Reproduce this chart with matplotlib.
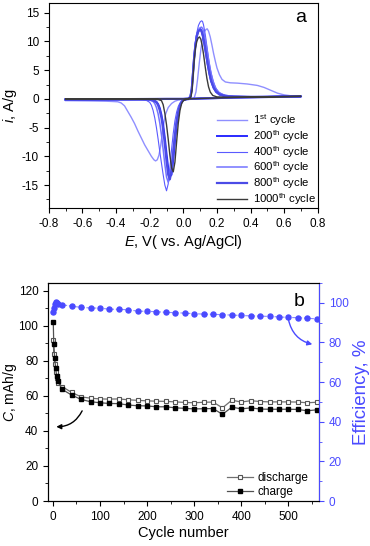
import matplotlib
matplotlib.use("Agg")
import matplotlib.pyplot as plt
from matplotlib.ticker import MultipleLocator, FormatStrFormatter

plt.rcParams['font.family'] = ['Liberation Sans', 'DejaVu Sans']
plt.rcParams['mathtext.fontset'] = 'custom'
plt.rcParams['mathtext.rm'] = 'Liberation Sans'
plt.rcParams['mathtext.it'] = 'Liberation Sans:italic'
plt.rcParams['axes.unicode_minus'] = False

# ---------------- Panel a: CV curves ----------------
cv_labels = [r"1$^{\rm st}$ cycle", r"200$^{\rm th}$ cycle", r"400$^{\rm th}$ cycle",
             r"600$^{\rm th}$ cycle", r"800$^{\rm th}$ cycle", r"1000$^{\rm th}$ cycle"]

# 1st cycle
E1_an = [-0.70, -0.50, -0.30, -0.10, 0.00, 0.050, 0.065, 0.075, 0.085, 0.095, 0.105, 0.115, 0.125, 0.135,
         0.142, 0.150, 0.160, 0.170, 0.180, 0.190, 0.200, 0.215, 0.230, 0.250, 0.280, 0.320, 0.380, 0.440,
         0.480, 0.520, 0.560, 0.600, 0.650, 0.700]
i1_an = [-0.2, -0.05, 0.0, 0.0, 0.0, 0.05, 0.2, 1.2, 3.5, 6.3, 8.8, 10.6, 11.7, 12.1, 12.2, 11.8, 10.8, 9.4,
         7.9, 6.6, 5.4, 4.2, 3.4, 2.95, 2.8, 2.75, 2.6, 2.35, 2.0, 1.5, 1.0, 0.7, 0.5, 0.35]
E1_ca = [0.70, 0.60, 0.50, 0.40, 0.30, 0.20, 0.10, 0.05, 0.00, -0.03, -0.05, -0.07, -0.09, -0.105, -0.115,
         -0.125, -0.135, -0.145, -0.155, -0.165, -0.175, -0.19, -0.21, -0.23, -0.25, -0.27, -0.29, -0.31,
         -0.33, -0.35, -0.37, -0.39, -0.42, -0.46, -0.55, -0.70]
i1_ca = [0.35, 0.3, 0.25, 0.2, 0.15, 0.1, 0.05, 0.0, -0.1, -0.2, -0.4, -0.8, -1.5, -2.6, -4.0, -6.0, -8.2,
         -9.8, -10.6, -10.8, -10.6, -10.0, -9.0, -8.0, -6.8, -5.6, -4.3, -3.2, -2.2, -1.2, -0.7, -0.5,
         -0.45, -0.4, -0.35, -0.3]

# 200th cycle
E200_an = [-0.70, -0.40, -0.10, 0.00, 0.030, 0.042, 0.050, 0.057, 0.064, 0.072, 0.080, 0.090, 0.100, 0.108,
           0.116, 0.125, 0.135, 0.145, 0.155, 0.165, 0.180, 0.195, 0.215, 0.250, 0.300, 0.400, 0.500, 0.600, 0.700]
i200_an = [-0.1, -0.05, 0.0, 0.0, 0.05, 0.4, 1.8, 4.5, 7.3, 9.6, 11.1, 12.0, 12.2, 11.9, 11.0, 9.6, 7.8, 6.0,
           4.4, 3.1, 1.9, 1.2, 0.75, 0.5, 0.4, 0.35, 0.35, 0.4, 0.45]
E200_ca = [0.70, 0.50, 0.30, 0.20, 0.10, 0.05, 0.02, 0.00, -0.01, -0.02, -0.03, -0.04, -0.05, -0.06, -0.07,
           -0.08, -0.09, -0.10, -0.11, -0.12, -0.13, -0.14, -0.15, -0.16, -0.18, -0.20, -0.23, -0.30, -0.50, -0.70]
i200_ca = [0.45, 0.35, 0.25, 0.15, 0.08, 0.02, -0.05, -0.2, -0.6, -1.3, -2.6, -4.6, -7.4, -10.6, -13.2, -13.5,
           -12.0, -9.5, -6.8, -4.5, -2.8, -1.6, -0.9, -0.5, -0.2, -0.1, -0.08, -0.08, -0.08, -0.1]

# 400th cycle
E400_an = [-0.70, -0.40, -0.10, 0.00, 0.030, 0.040, 0.048, 0.055, 0.062, 0.070, 0.080, 0.090, 0.100, 0.108,
           0.114, 0.120, 0.130, 0.140, 0.150, 0.160, 0.175, 0.190, 0.210, 0.240, 0.300, 0.400, 0.500, 0.600, 0.700]
i400_an = [-0.1, -0.05, 0.0, 0.0, 0.05, 0.3, 1.5, 4.0, 7.0, 9.5, 11.5, 12.8, 13.4, 13.6, 13.5, 12.9, 11.3, 9.2,
           7.0, 5.2, 3.3, 2.0, 1.2, 0.7, 0.45, 0.35, 0.35, 0.4, 0.45]
E400_ca = [0.70, 0.50, 0.30, 0.20, 0.10, 0.05, 0.02, 0.00, -0.01, -0.02, -0.03, -0.04, -0.05, -0.06, -0.07,
           -0.08, -0.09, -0.10, -0.11, -0.12, -0.13, -0.14, -0.15, -0.16, -0.17, -0.18, -0.19, -0.20, -0.22,
           -0.25, -0.30, -0.50, -0.70]
i400_ca = [0.45, 0.35, 0.25, 0.15, 0.08, 0.02, -0.05, -0.15, -0.35, -0.7, -1.3, -2.3, -3.8, -6.0, -8.8, -12.0,
           -14.8, -16.0, -15.0, -13.2, -11.2, -9.2, -7.0, -5.0, -3.3, -2.0, -1.1, -0.6, -0.25, -0.12, -0.1,
           -0.08, -0.1]

# 600th cycle
E600_an = [-0.70, -0.40, -0.10, 0.00, 0.030, 0.042, 0.050, 0.057, 0.064, 0.072, 0.082, 0.092, 0.100, 0.108,
           0.116, 0.125, 0.135, 0.145, 0.155, 0.165, 0.180, 0.195, 0.215, 0.250, 0.300, 0.400, 0.500, 0.600, 0.700]
i600_an = [-0.1, -0.05, 0.0, 0.0, 0.05, 0.3, 1.5, 4.0, 6.8, 9.2, 11.0, 12.1, 12.4, 12.5, 12.2, 11.2, 9.6, 7.8,
           6.0, 4.4, 2.8, 1.7, 1.0, 0.6, 0.45, 0.35, 0.35, 0.4, 0.45]
E600_ca = [0.70, 0.50, 0.30, 0.20, 0.10, 0.05, 0.02, 0.00, -0.01, -0.02, -0.03, -0.04, -0.05, -0.06, -0.07,
           -0.08, -0.09, -0.10, -0.11, -0.12, -0.13, -0.14, -0.15, -0.16, -0.17, -0.18, -0.20, -0.23, -0.30,
           -0.50, -0.70]
i600_ca = [0.45, 0.35, 0.25, 0.15, 0.08, 0.02, -0.05, -0.2, -0.5, -1.0, -2.0, -3.6, -5.8, -8.6, -11.6, -13.8,
           -14.5, -13.6, -11.4, -8.8, -6.3, -4.2, -2.6, -1.5, -0.8, -0.45, -0.2, -0.12, -0.1, -0.08, -0.1]

# 800th cycle
E800_an = [-0.70, -0.40, -0.10, 0.00, 0.030, 0.042, 0.050, 0.057, 0.064, 0.072, 0.080, 0.090, 0.100, 0.108,
           0.116, 0.125, 0.135, 0.145, 0.155, 0.165, 0.180, 0.195, 0.215, 0.250, 0.300, 0.400, 0.500, 0.600, 0.700]
i800_an = [-0.1, -0.05, 0.0, 0.0, 0.05, 0.35, 1.6, 4.2, 7.0, 9.3, 10.9, 11.8, 12.0, 11.8, 11.0, 9.7, 7.9, 6.1,
           4.5, 3.2, 2.0, 1.3, 0.8, 0.5, 0.4, 0.35, 0.35, 0.4, 0.45]
E800_ca = [0.70, 0.50, 0.30, 0.20, 0.10, 0.05, 0.02, 0.00, -0.01, -0.02, -0.03, -0.04, -0.05, -0.06, -0.07,
           -0.08, -0.09, -0.10, -0.11, -0.12, -0.13, -0.14, -0.15, -0.16, -0.18, -0.20, -0.23, -0.30, -0.50, -0.70]
i800_ca = [0.45, 0.35, 0.25, 0.15, 0.08, 0.02, -0.05, -0.2, -0.5, -1.1, -2.2, -3.9, -6.4, -9.4, -12.4, -14.0,
           -13.2, -10.8, -7.9, -5.3, -3.3, -2.0, -1.1, -0.6, -0.25, -0.12, -0.08, -0.08, -0.08, -0.1]

# 1000th cycle
E1000_an = [-0.70, -0.40, -0.10, 0.00, 0.030, 0.045, 0.052, 0.058, 0.065, 0.072, 0.080, 0.088, 0.096, 0.104,
            0.112, 0.120, 0.130, 0.140, 0.150, 0.160, 0.175, 0.200, 0.250, 0.300, 0.400, 0.500, 0.600, 0.700]
i1000_an = [-0.05, 0.0, 0.0, 0.0, 0.05, 0.3, 1.5, 4.0, 6.8, 8.8, 10.0, 10.6, 10.8, 10.4, 9.3, 7.8, 5.6, 3.6,
            2.1, 1.2, 0.6, 0.35, 0.3, 0.3, 0.3, 0.35, 0.4, 0.45]
E1000_ca = [0.70, 0.50, 0.30, 0.20, 0.10, 0.05, 0.02, 0.00, -0.01, -0.02, -0.03, -0.04, -0.05, -0.06, -0.07,
            -0.08, -0.09, -0.10, -0.11, -0.12, -0.13, -0.15, -0.20, -0.30, -0.50, -0.70]
i1000_ca = [0.45, 0.35, 0.25, 0.15, 0.08, 0.02, -0.05, -0.3, -0.8, -2.0, -4.2, -7.5, -11.0, -12.7, -12.0, -9.8,
            -7.0, -4.5, -2.5, -1.0, -0.3, -0.1, -0.05, -0.03, -0.03, -0.05]

cv_E = [E1_an + E1_ca, E200_an + E200_ca, E400_an + E400_ca, E600_an + E600_ca, E800_an + E800_ca,
        E1000_an + E1000_ca]
cv_i = [i1_an + i1_ca, i200_an + i200_ca, i400_an + i400_ca, i600_an + i600_ca, i800_an + i800_ca,
        i1000_an + i1000_ca]
cv_colors = ['#8f8fff', '#2a2aff', '#5a5aff', '#7373ff', '#4b4be6', '#3a3a3a']
cv_widths = [1.0, 1.4, 0.8, 1.1, 1.6, 1.0]

# ---------------- Panel b: cycling ----------------
cycles = [1, 2, 4, 6, 8, 10, 20, 40, 60, 80, 100, 120, 140, 160, 180, 200, 220, 240, 260, 280, 300,
          320, 340, 360, 380, 400, 420, 440, 460, 480, 500, 520, 540, 560]
charge = [102.0, 89.5, 81.5, 76.0, 71.5, 68.5, 63.7, 60.5, 58.0, 56.7, 56.1, 55.7, 55.6, 54.8, 54.4, 54.3,
          53.8, 53.8, 53.2, 52.9, 52.6, 52.7, 52.8, 49.5, 53.6, 52.6, 53.2, 52.5, 52.4, 52.4, 52.4, 52.3,
          51.5, 52.1]
discharge = [92.0, 84.0, 78.5, 73.8, 70.0, 67.5, 65.3, 62.0, 59.5, 58.7, 58.3, 58.2, 58.3, 57.8, 57.5, 57.2,
             57.0, 56.9, 56.6, 56.3, 56.1, 56.4, 56.5, 53.2, 57.6, 56.5, 57.3, 56.8, 56.6, 56.6, 56.6, 56.5,
             56.1, 56.4]
efficiency = [95.6, 97.5, 99.5, 100.2, 100.0, 99.4, 99.0, 98.3, 97.7, 97.4, 97.3, 96.8, 96.7, 96.5, 95.8,
              95.7, 95.5, 95.2, 95.0, 94.8, 94.5, 94.3, 94.2, 94.0, 93.8, 93.6, 93.4, 93.3, 93.1, 92.9,
              92.6, 92.5, 92.2, 91.9]

blue = '#4a4aff'

fig = plt.figure(figsize=(3.7, 5.46), dpi=100)

# ---- panel a
ax1 = fig.add_axes([0.132, 0.619, 0.727, 0.3755])
for E, cur, c, lw, lab in zip(cv_E, cv_i, cv_colors, cv_widths, cv_labels):
    ax1.plot(E, cur, color=c, lw=lw, label=lab)
ax1.set_xlim(-0.8, 0.8)
ax1.set_ylim(-19, 16.7)
ax1.xaxis.set_major_locator(MultipleLocator(0.2))
ax1.xaxis.set_minor_locator(MultipleLocator(0.1))
ax1.xaxis.set_major_formatter(FormatStrFormatter('%.1f'))
ax1.yaxis.set_major_locator(MultipleLocator(5))
ax1.yaxis.set_minor_locator(MultipleLocator(2.5))
ax1.tick_params(which='both', direction='out', labelsize=8.5, top=False, right=False)
ax1.tick_params(which='major', length=3.5)
ax1.tick_params(which='minor', length=2)
ax1.set_xlabel(r'$\mathit{E}$, V( vs. Ag/AgCl)', fontsize=10.5, labelpad=2)
ax1.set_ylabel(r'$\mathit{i}$, A/g', fontsize=10.5, labelpad=2)
ax1.text(0.955, 0.93, 'a', transform=ax1.transAxes, fontsize=14, ha='right', va='center')
ax1.legend(loc='lower right', bbox_to_anchor=(1.03, -0.045), frameon=False, fontsize=8.2,
           handlelength=2.6, labelspacing=0.0, handletextpad=0.5)

# ---- panel b
ax2 = fig.add_axes([0.130, 0.0824, 0.7324, 0.3993])
ax2.plot(cycles, discharge, color='#707070', lw=0.9, marker='s', ms=3.5, mfc='white', mec='#555555',
         mew=0.8, label='discharge')
ax2.plot(cycles, charge, color='#505050', lw=0.9, marker='s', ms=3.5, mfc='black', mec='black',
         label='charge')
ax2.set_xlim(-10, 565)
ax2.set_ylim(0, 124.5)
ax2.xaxis.set_major_locator(MultipleLocator(100))
ax2.xaxis.set_minor_locator(MultipleLocator(50))
ax2.yaxis.set_major_locator(MultipleLocator(20))
ax2.yaxis.set_minor_locator(MultipleLocator(10))
ax2.tick_params(which='both', direction='out', labelsize=8.5, top=False, right=False)
ax2.tick_params(which='major', length=3.5)
ax2.tick_params(which='minor', length=2)
ax2.set_xlabel('Cycle number', fontsize=10.5, labelpad=2)
ax2.set_ylabel(r'$\mathit{C}$, mAh/g', fontsize=10, labelpad=0)
ax2.legend(loc='lower right', bbox_to_anchor=(1.0, -0.035), frameon=False, fontsize=8.5,
           handlelength=2.2, labelspacing=0.2, handletextpad=0.4)

ax3 = ax2.twinx()
ax3.plot(cycles, efficiency, color='#8a8aff', lw=0.8, ls='--', marker='o', ms=3.6, mfc=blue, mec=blue)
ax3.set_ylim(0, 110)
ax3.yaxis.set_major_locator(MultipleLocator(20))
ax3.yaxis.set_minor_locator(MultipleLocator(10))
ax3.tick_params(axis='y', which='both', direction='out', colors=blue, labelsize=8.5)
ax3.tick_params(axis='y', which='major', length=3.5)
ax3.tick_params(axis='y', which='minor', length=2)
ax3.spines['right'].set_color(blue)
ax3.set_ylabel('Efficiency, %', color=blue, fontsize=13.5, labelpad=3)
ax3.text(0.945, 0.915, 'b', transform=ax3.transAxes, fontsize=14, ha='right', va='center')

ax3.annotate('', xy=(0.985, 0.716), xytext=(0.885, 0.845), xycoords='axes fraction',
             textcoords='axes fraction',
             arrowprops=dict(arrowstyle='-|>', color=blue, lw=1.0, mutation_scale=7,
                             connectionstyle='arc3,rad=0.35'))
ax3.annotate('', xy=(0.02, 0.341), xytext=(0.13, 0.425), xycoords='axes fraction',
             textcoords='axes fraction',
             arrowprops=dict(arrowstyle='-|>', color='black', lw=1.0, mutation_scale=7,
                             connectionstyle='arc3,rad=-0.35'))

fig.savefig('out.png', dpi=100)
